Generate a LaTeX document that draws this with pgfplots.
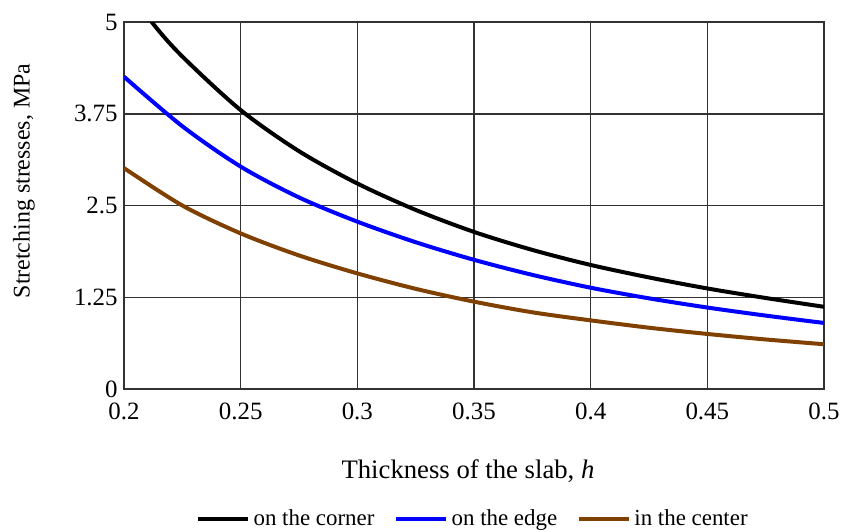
\documentclass[border=0pt]{standalone}
\usepackage{fontspec}
\setmainfont{Liberation Serif}
\usepackage{pgfplots}
\pgfplotsset{compat=1.18}

\definecolor{curvebrown}{RGB}{128,64,0}
\definecolor{gridgray}{RGB}{50,50,50}

\begin{document}
\begin{tikzpicture}
\begin{axis}[
    scale only axis,
    width=350bp,
    height=183.5bp,
    xmin=0.2, xmax=0.5,
    ymin=0, ymax=5,
    xtick={0.2,0.25,0.3,0.35,0.4,0.45,0.5},
    xticklabels={0.2,0.25,0.3,0.35,0.4,0.45,0.5},
    ytick={0,1.25,2.5,3.75,5},
    yticklabels={0,1.25,2.5,3.75,5},
    major tick length=0pt,
    grid=major,
    major grid style={line width=0.75bp, gridgray},
    axis line style={line width=0.75bp, gridgray},
    tick label style={font=\fontsize{12.5}{14}\selectfont, inner sep=0pt},
    xticklabel shift=7bp,
    yticklabel shift=3bp,
    xlabel={Thickness of the slab, \textit{h}},
    xlabel style={font=\fontsize{13.4}{15}\selectfont, at={(axis description cs:0.5,0)},
                  anchor=base, yshift=-44.5bp, xshift=-3bp},
    ylabel={Stretching stresses, MPa},
    ylabel style={font=\fontsize{12}{14}\selectfont,
                  at={(axis description cs:-0.1429,0.5668)}, anchor=center},
    legend columns=3,
    legend style={draw=none, fill=none, at={(axis description cs:0.5,0)}, anchor=center,
                  yshift=-65bp, font=\fontsize{11.5}{13}\selectfont,
                  /tikz/every even column/.append style={column sep=8bp}},
    legend image code/.code={\draw[#1, line width=1.6bp] (0bp,0bp) -- (25bp,0bp);},
    every axis plot/.append style={line width=2bp, smooth},
]
\coordinate (sw) at (rel axis cs:0,0);

% on the corner (leaves the box at the top, clipped)
\addplot[black] coordinates {
    (0.20,5.55) (0.2119,5.00) (0.225,4.53) (0.25,3.80) (0.275,3.24) (0.30,2.80)
    (0.325,2.44) (0.35,2.14) (0.375,1.895) (0.40,1.69) (0.425,1.52)
    (0.45,1.37) (0.475,1.24) (0.50,1.12)
};
\addlegendentry{on the corner}

% on the edge
\addplot[blue] coordinates {
    (0.20,4.255) (0.225,3.58) (0.25,3.03) (0.275,2.61) (0.30,2.28)
    (0.325,2.00) (0.35,1.76) (0.375,1.555) (0.40,1.38) (0.425,1.235)
    (0.45,1.11) (0.475,1.00) (0.50,0.90)
};
\addlegendentry{on the edge}

% in the center
\addplot[curvebrown] coordinates {
    (0.20,3.01) (0.225,2.50) (0.25,2.12) (0.275,1.82) (0.30,1.575)
    (0.325,1.365) (0.35,1.19) (0.375,1.045) (0.40,0.935) (0.425,0.835)
    (0.45,0.75) (0.475,0.675) (0.50,0.61)
};
\addlegendentry{in the center}
\end{axis}
\pgfresetboundingbox
\useasboundingbox ([xshift=-62bp,yshift=-71.5bp]sw) rectangle ([xshift=361.5bp,yshift=194.5bp]sw);
\end{tikzpicture}
\end{document}
